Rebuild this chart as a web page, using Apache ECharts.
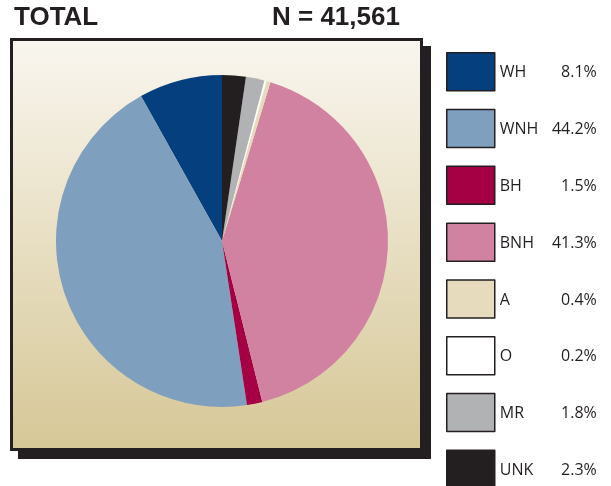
<!DOCTYPE html>
<html>
<head>
<meta charset="utf-8">
<script src="https://cdn.jsdelivr.net/npm/echarts@6/dist/echarts.min.js"></script>
<style>
  html, body { margin: 0; padding: 0; background: #fff; }
  #chart { width: 611px; height: 486px; }
</style>
</head>
<body>
<div id="chart"></div>
<script>
    // data
    var categories = ['WH', 'WNH', 'BH', 'BNH', 'A', 'O', 'MR', 'UNK'];
    var percents = [8.1, 44.2, 1.5, 41.3, 0.4, 0.2, 1.8, 2.3];
    var colors = ['#063f7e', '#7f9fbf', '#a50044', '#d282a1', '#e6dbbd', '#ffffff', '#b1b2b4', '#231f20'];
    var totalText = 'N = 41,561';

    var chart = echarts.init(document.getElementById('chart'));

    var pieData = categories.map(function (c, i) {
        return { name: c, value: percents[i], itemStyle: { color: colors[i] } };
    });

    chart.setOption({
        animation: false,
        title: [{
            text: 'TOTAL',
            left: 14, top: 5, padding: 0,
            textStyle: { fontFamily: 'Liberation Sans', fontWeight: 'bold', fontSize: 26, color: '#231f20' }
        }, {
            text: totalText,
            left: 272, top: 5, padding: 0,
            textStyle: { fontFamily: 'Liberation Sans', fontWeight: 'bold', fontSize: 26, color: '#231f20' }
        }],
        graphic: [{
            type: 'rect',
            z: 0,
            shape: { x: 18, y: 46, width: 413, height: 413 },
            style: { fill: '#231f20' }
        }, {
            type: 'rect',
            z: 0,
            shape: { x: 11.5, y: 39.5, width: 410, height: 410 },
            style: {
                fill: new echarts.graphic.LinearGradient(0, 0, 0, 1, [
                    { offset: 0, color: '#f9f6ef' },
                    { offset: 1, color: '#d6c796' }
                ]),
                stroke: '#231f20',
                lineWidth: 3
            }
        }],
        legend: {
            type: 'plain',
            orient: 'vertical',
            left: 446,
            top: 52,
            height: 600,
            padding: 0,
            itemWidth: 48,
            itemHeight: 38,
            itemGap: 17.3,
            icon: 'rect',
            selectedMode: false,
            itemStyle: { borderColor: '#231f20', borderWidth: 1.5 },
            data: categories,
            formatter: function (name) {
                var i = categories.indexOf(name);
                return '{n|' + name + '}{p|' + percents[i].toFixed(1) + '%}';
            },
            textStyle: {
                rich: {
                    n: { width: 50, fontFamily: 'Open Sans', fontSize: 16, color: '#231f20', padding: [2, 0, 0, 0] },
                    p: { width: 47, align: 'right', fontFamily: 'Open Sans', fontSize: 16, color: '#231f20', padding: [2, 0, 0, 0] }
                }
            }
        },
        series: [{
            type: 'pie',
            z: 5,
            center: [222, 241],
            radius: 166,
            startAngle: 90,
            clockwise: false,
            label: { show: false },
            labelLine: { show: false },
            emphasis: { disabled: true },
            data: pieData
        }]
    });
</script>
</body>
</html>
